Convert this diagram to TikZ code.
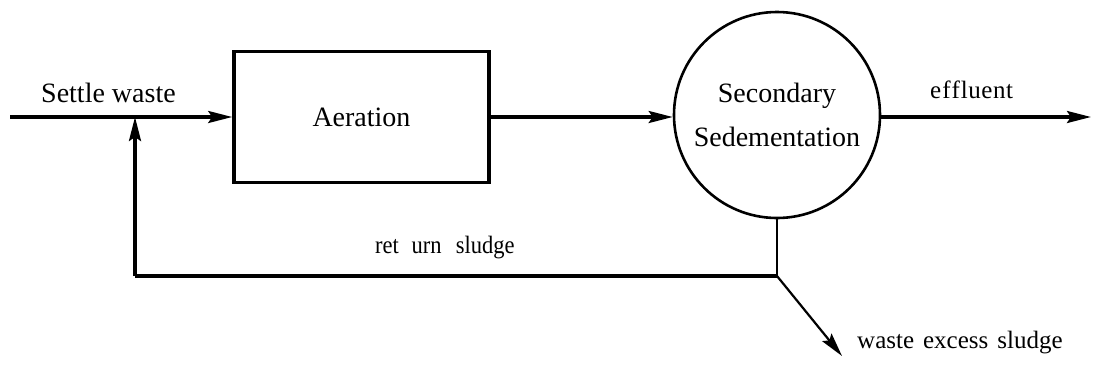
\documentclass[tikz,border=0pt]{standalone}
\usepackage{fontspec}
\setmainfont{Liberation Serif}
\usetikzlibrary{arrows.meta}
\begin{document}
\begin{tikzpicture}[x=1pt,y=-1pt,
  tip/.style={-{Stealth[length=24pt,width=12pt,inset=4pt]}},
  flow/.style={line width=3.2pt, tip},
  thinflow/.style={line width=2.2pt, tip},
  pipe/.style={line width=3.6pt},
  thinpipe/.style={line width=2.2pt},
  big/.style={font=\fontsize{28}{44}\selectfont, inner sep=0pt},
  mid/.style={font=\fontsize{25}{28}\selectfont, inner sep=0pt},
  tank/.style={draw, line width=3.6pt, minimum width=255pt, minimum height=131pt, inner sep=0pt},
  clarifier/.style={draw, circle, line width=2.6pt, minimum size=206pt, inner sep=0pt, align=center}]
\useasboundingbox (0,0) rectangle (1093,376);

% process units
\node[tank, big] (aer) at (361.5,117) {Aeration};
\node[clarifier, big] (sed) at (777,115) {Secondary\\Sedementation};

% pipe junctions and free ends
\coordinate (in)  at (10,117);
\coordinate (jn)  at (135,117);
\coordinate (rb)  at (135,276);
\coordinate (rs)  at (777,276);
\coordinate (out) at (1091,117);
\coordinate (ws)  at (842,356);

% main flow
\draw[flow] (in) -- (aer.west |- in);
\draw[flow] (aer.east |- in) -- (sed.west |- in);
\draw[flow] (sed.east |- out) -- (out);

% sludge return and wasting
\draw[thinpipe] (sed.south) -- (rs);
\draw[pipe] (rs) -- (rb);
\draw[flow] (rb) -- (jn);
\draw[thinflow] (rs) -- (ws);

% stream labels
\node[big, anchor=base west] (lsettle) at (41,102) {Settle waste};
\node[mid, anchor=base west] (leff) at (930,98) {e\hspace{1pt}f\hspace{1pt}f\hspace{1pt}l\hspace{0.5pt}u\hspace{0.5pt}e\hspace{0.5pt}n\hspace{0.5pt}t};
\node[mid, anchor=base west] (lret) at (375,253) {\scalebox{0.9}[1]{ret\hspace{14pt}urn\hspace{16pt}sludge}};
\node[mid, anchor=base west] (lwaste) at (857,348) {waste\hspace{9pt}excess\hspace{9pt}sludge};
\end{tikzpicture}
\end{document}
